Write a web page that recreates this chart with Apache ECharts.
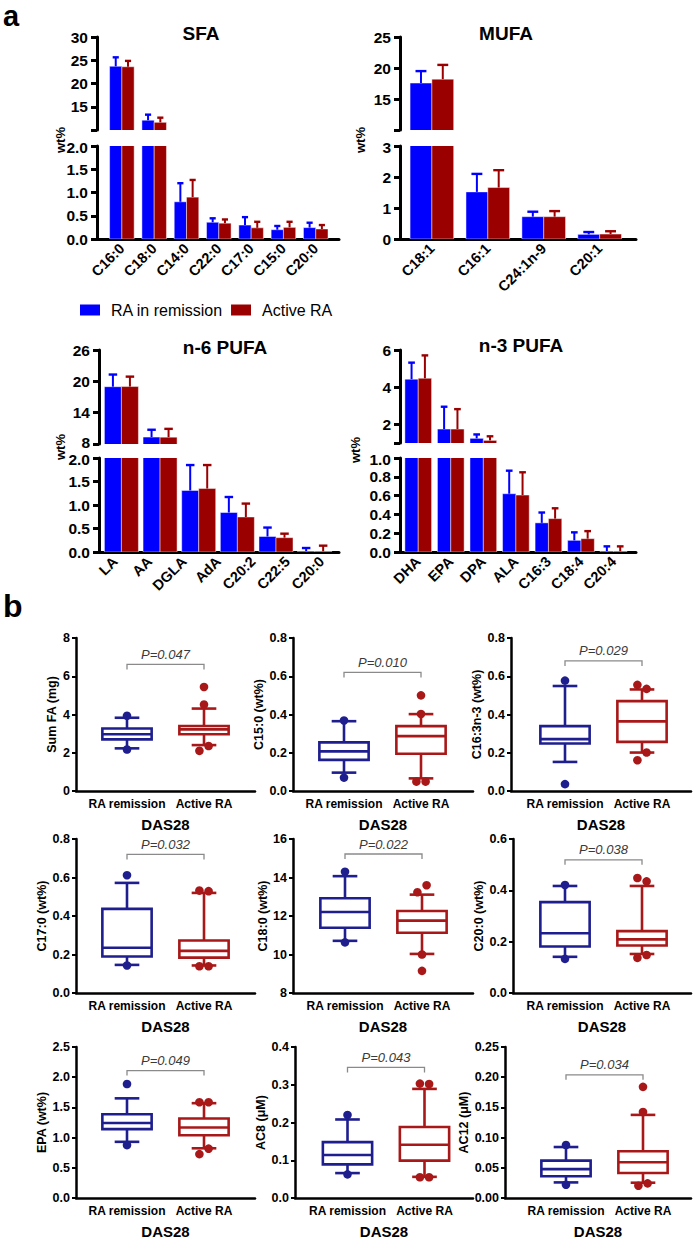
<!DOCTYPE html>
<html><head><meta charset="utf-8">
<script src="https://cdn.jsdelivr.net/npm/echarts@6/dist/echarts.min.js"></script>
<style>html,body{margin:0;padding:0;background:#fff;}#c{width:696px;height:1240px;}</style>
</head><body><div id="c"></div>
<script>
// ================= Panel a data (mean, SD) =================
const sfaCats = ['C16:0','C18:0','C14:0','C22:0','C17:0','C15:0','C20:0'];
const sfaRemission   = [23.7, 12.1, 0.80, 0.36, 0.30, 0.20, 0.245];
const sfaRemissionSD = [1.93, 1.2, 0.40, 0.085, 0.17, 0.08, 0.105];
const sfaActive      = [23.6, 11.65, 0.90, 0.34, 0.24, 0.25, 0.215];
const sfaActiveSD    = [1.26, 1.0, 0.37, 0.08, 0.13, 0.12, 0.085];

const mufaCats = ['C18:1','C16:1','C24:1n-9','C20:1'];
const mufaRemission   = [17.57, 1.52, 0.72, 0.15];
const mufaRemissionSD = [1.93, 0.58, 0.16, 0.075];
const mufaActive      = [18.2, 1.66, 0.72, 0.16];
const mufaActiveSD    = [2.3, 0.56, 0.18, 0.09];

const n6Labels = ['LA','AA','DGLA','AdA','C20:2','C22:5','C20:0'];   // 7 axis labels
const n6Groups = ['G1','G2','G3','G4','G5','G6'];                     // 6 bar groups drawn
const n6Remission   = [18.97, 9.33, 1.31, 0.84, 0.33, 0.02];
const n6RemissionSD = [2.33, 1.4, 0.54, 0.33, 0.19, 0.065];
const n6Active      = [19.0, 9.3, 1.35, 0.745, 0.305, 0.015];
const n6ActiveSD    = [1.9, 1.6, 0.5, 0.285, 0.085, 0.12];

const n3Cats = ['DHA','EPA','DPA','ALA','C16:3','C18:4','C20:4'];
const n3Remission   = [4.43, 1.75, 1.25, 0.62, 0.31, 0.124, 0.01];
const n3RemissionSD = [0.89, 1.2, 0.21, 0.245, 0.11, 0.085, 0.05];
const n3Active      = [4.48, 1.75, 1.14, 0.606, 0.355, 0.142, 0.008];
const n3ActiveSD    = [1.23, 1.07, 0.22, 0.242, 0.11, 0.08, 0.052];

// tick values for the broken axes
const sfaUpperTicks = [10,15,20,25,30], sfaUpperLabels = [15,20,25,30];
const sfaLowerTicks = [0,0.5,1,1.5,2];
const mufaUpperTicks = [10,15,20,25], mufaUpperLabels = [15,20,25];
const mufaLowerTicks = [0,1,2,3];
const n6UpperTicks = [8,14,20,26], n6UpperLabels = [8,14,20,26];
const n6LowerTicks = [0,0.5,1,1.5,2];
const n3UpperTicks = [1,2,4,6], n3UpperLabels = [2,4,6];
const n3LowerTicks = [0,0.2,0.4,0.6,0.8,1];

const seriesNames = ['RA in remission','Active RA'];

// ================= Panel b data: [low whisker, Q1, median, Q3, high whisker] =================
const boxGroups = ['RA remission','Active RA'];
const sumFaRemission = [2.23, 2.70, 2.97, 3.27, 3.83];  const sumFaRemissionOut = [3.93, 2.17];
const sumFaActive    = [2.40, 2.97, 3.22, 3.40, 4.31];  const sumFaActiveOut    = [5.44, 4.52, 2.10, 2.35];
const c15Remission = [0.096, 0.163, 0.207, 0.254, 0.365]; const c15RemissionOut = [0.369, 0.070];
const c15Active    = [0.066, 0.195, 0.287, 0.339, 0.402]; const c15ActiveOut    = [0.50, 0.403, 0.049, 0.049];
const c163Remission = [0.152, 0.248, 0.271, 0.339, 0.549]; const c163RemissionOut = [0.577, 0.036];
const c163Active    = [0.201, 0.257, 0.364, 0.470, 0.531]; const c163ActiveOut    = [0.555, 0.534, 0.161, 0.201];
const c17Remission = [0.146, 0.19, 0.235, 0.437, 0.572]; const c17RemissionOut = [0.612, 0.143];
const c17Active    = [0.143, 0.184, 0.219, 0.273, 0.52];  const c17ActiveOut    = [0.532, 0.529, 0.139, 0.139];
const c18Remission = [10.71, 11.39, 12.21, 12.92, 14.07]; const c18RemissionOut = [14.3, 10.63];
const c18Active    = [10.03, 11.13, 11.76, 12.26, 13.11]; const c18ActiveOut    = [13.23, 13.6, 10.0, 9.15];
const c20Remission = [0.141, 0.181, 0.233, 0.354, 0.417]; const c20RemissionOut = [0.421, 0.133];
const c20Active    = [0.152, 0.185, 0.209, 0.241, 0.417]; const c20ActiveOut    = [0.448, 0.435, 0.137, 0.148];
const epaRemission = [0.93, 1.14, 1.242, 1.387, 1.65];   const epaRemissionOut = [1.887, 0.876];
const epaActive    = [0.823, 1.038, 1.167, 1.317, 1.57]; const epaActiveOut    = [1.586, 1.586, 0.726, 0.817];
const ac8Remission = [0.066, 0.089, 0.114, 0.148, 0.208]; const ac8RemissionOut = [0.22, 0.0626];
const ac8Active    = [0.056, 0.099, 0.141, 0.188, 0.289]; const ac8ActiveOut    = [0.303, 0.302, 0.055, 0.055];
const ac12Remission = [0.0258, 0.036, 0.0478, 0.0618, 0.0844]; const ac12RemissionOut = [0.0876, 0.022];
const ac12Active    = [0.0253, 0.0414, 0.0591, 0.0774, 0.1376]; const ac12ActiveOut   = [0.184, 0.1425, 0.0204, 0.0242];

const pTexts   = ['P=0.047','P=0.010','P=0.029','P=0.032','P=0.022','P=0.038','P=0.049','P=0.043','P=0.034'];
const pLevels  = [6.62, 0.62, 0.68, 0.72, 15.22, 0.519, 2.11, 0.346, 0.204];
const yNames   = ['Sum FA (mg)','C15:0 (wt%)','C16:3n-3 (wt%)','C17:0 (wt%)','C18:0 (wt%)','C20:0 (wt%)','EPA (wt%)','AC8 (\u03bcM)','AC12 (\u03bcM)'];
const yMins    = [0, 0, 0, 0, 8, 0, 0, 0, 0];
const yMaxs    = [8, 0.8, 0.8, 0.8, 16, 0.6, 2.5, 0.4, 0.25];
const ySteps   = [2, 0.2, 0.2, 0.2, 2, 0.2, 0.5, 0.1, 0.05];
const yDecs    = [0, 1, 1, 1, 0, 1, 1, 1, 2];

// ================= styling / layout =================
const FONT = 'Liberation Sans, Arial, Helvetica, sans-serif';
const BLUE = '#0000ff', RED = '#9a0000';
const BOXC = ['#1e1e8e', '#a81818'];
const grids = [], xAxes = [], yAxes = [], series = [], graphics = [];
const fmt = d => v => Number(v).toFixed(d);

function barRender(side, bw, color) {
  return function (params, api) {
    const xc = api.value(0), v = api.value(1), sd = api.value(2);
    const x0 = side < 0 ? xc - bw : xc;
    const tl = api.coord([x0, v]);
    const br = api.coord([x0 + bw, 0]);
    const w = br[0] - tl[0];
    const mid = tl[0] + w / 2;
    const top = api.coord([x0, v + sd])[1];
    const cap = w * 0.25;
    return {type: 'group', children: [
      {type: 'rect', shape: {x: tl[0], y: tl[1], width: w, height: br[1] - tl[1]},
        style: {fill: color, stroke: 'rgba(255,255,255,0.45)', lineWidth: 1}},
      {type: 'line', shape: {x1: mid, y1: tl[1], x2: mid, y2: top}, style: {stroke: color, lineWidth: 2}},
      {type: 'line', shape: {x1: mid - cap, y1: top, x2: mid + cap, y2: top}, style: {stroke: color, lineWidth: 2.4}}
    ]};
  };
}

// edge: 'up' = upper segment (its bottom label nudged up), 'lo' = lower segment (its top label nudged down)
function yBar(gi, g, ticks, labels, dec, edge) {
  const f = fmt(dec);
  return {gridIndex: gi, type: 'value', min: g.min, max: g.max,
    axisLine: {show: true, onZero: false, lineStyle: {color: '#000', width: 3}},
    axisTick: {show: true, customValues: ticks, length: 6, lineStyle: {color: '#000', width: 3}},
    axisLabel: {show: true, customValues: labels, color: '#000', fontFamily: FONT,
      fontWeight: 'bold', fontSize: 15.5, lineHeight: 14, margin: 9,
      formatter: v => {
        if (edge === 'up' && v === g.min) return '{u|' + f(v) + '}';
        if (edge === 'lo' && v === g.max) return '{d|' + f(v) + '}';
        return f(v);
      },
      rich: {u: {padding: [0, 0, 4, 0], fontWeight: 'bold', fontSize: 15.5, fontFamily: FONT, color: '#000'},
             d: {padding: [3, 0, 0, 0], fontWeight: 'bold', fontSize: 15.5, fontFamily: FONT, color: '#000'}}},
    splitLine: {show: false}};
}

function addBarPanel(c) {
  const gU = grids.length; grids.push({left: c.left, width: c.width, top: c.up.top, height: c.up.h});
  const gL = grids.length; grids.push({left: c.left, width: c.width, top: c.lo.top, height: c.lo.h});
  const hidden = (gi, mn, mx) => ({gridIndex: gi, type: 'value', min: mn, max: mx, show: false});
  const xUbar = xAxes.length; xAxes.push(hidden(gU, c.bx[0], c.bx[1]));
  const labelAxis = {gridIndex: gL, type: 'value', min: c.lx[0], max: c.lx[1],
    axisLine: {show: true, onZero: false, lineStyle: {color: '#000', width: 3}},
    axisTick: {show: false}, splitLine: {show: false},
    axisLabel: {customValues: c.labels.map((_, i) => i), formatter: v => c.labels[Math.round(v)] || '',
      rotate: 45, color: '#000', fontFamily: FONT, fontWeight: 'bold', fontSize: 14.5, margin: 7}};
  const xLlab = xAxes.length; xAxes.push(labelAxis);
  let xLbar = xLlab;
  if (c.separateBars) { xLbar = xAxes.length; xAxes.push(hidden(gL, c.bx[0], c.bx[1])); }
  const yU = yAxes.length; yAxes.push(yBar(gU, c.up, c.up.ticks, c.up.labels, c.up.dec, 'up'));
  const yL = yAxes.length; yAxes.push(yBar(gL, c.lo, c.lo.ticks, c.lo.ticks, c.lo.dec, 'lo'));
  [[xUbar, yU], [xLbar, yL]].forEach(([xi, yi]) => {
    series.push({type: 'custom', name: seriesNames[0], xAxisIndex: xi, yAxisIndex: yi, clip: true,
      itemStyle: {color: BLUE}, renderItem: barRender(-1, c.bw, BLUE),
      data: c.blue.map((v, i) => [i, v, c.blueSd[i]])});
    series.push({type: 'custom', name: seriesNames[1], xAxisIndex: xi, yAxisIndex: yi, clip: true,
      itemStyle: {color: RED}, renderItem: barRender(1, c.bw, RED),
      data: c.red.map((v, i) => [i, v, c.redSd[i]])});
  });
  graphics.push({type: 'text', x: c.titleX, y: c.titleY,
    style: {text: c.title, font: 'bold 19px ' + FONT, fill: '#000', align: 'center', verticalAlign: 'middle'}});
  graphics.push({type: 'text', x: c.wtX, y: c.wtY, rotation: Math.PI / 2,
    style: {text: 'wt%', font: 'bold 13px ' + FONT, fill: '#000', align: 'center', verticalAlign: 'middle'}});
}

addBarPanel({left: 97, width: 242, bx: [-0.77, 6.72], lx: [-0.77, 6.72], bw: 0.38, labels: sfaCats,
  blue: sfaRemission, blueSd: sfaRemissionSD, red: sfaActive, redSd: sfaActiveSD,
  up: {top: 37, h: 93, min: 10, max: 30, ticks: sfaUpperTicks, labels: sfaUpperLabels, dec: 0},
  lo: {top: 146, h: 93, min: 0, max: 2, ticks: sfaLowerTicks, dec: 1},
  title: 'SFA', titleX: 201, titleY: 33, wtX: 60, wtY: 140});
addBarPanel({left: 400, width: 236, bx: [-0.57, 3.65], lx: [-0.57, 3.65], bw: 0.39, labels: mufaCats,
  blue: mufaRemission, blueSd: mufaRemissionSD, red: mufaActive, redSd: mufaActiveSD,
  up: {top: 37, h: 93, min: 10, max: 25, ticks: mufaUpperTicks, labels: mufaUpperLabels, dec: 0},
  lo: {top: 146, h: 93, min: 0, max: 3, ticks: mufaLowerTicks, dec: 0},
  title: 'MUFA', titleX: 506, titleY: 33, wtX: 360, wtY: 140});
addBarPanel({left: 99, width: 240, bx: [-0.58, 5.63], lx: [-0.47, 6.5], separateBars: true, bw: 0.44, labels: n6Labels,
  blue: n6Remission, blueSd: n6RemissionSD, red: n6Active, redSd: n6ActiveSD,
  up: {top: 350, h: 94, min: 8, max: 26, ticks: n6UpperTicks, labels: n6UpperLabels, dec: 0},
  lo: {top: 458, h: 94, min: 0, max: 2, ticks: n6LowerTicks, dec: 1},
  title: 'n-6 PUFA', titleX: 225, titleY: 347, wtX: 60, wtY: 447});
addBarPanel({left: 400, width: 236, bx: [-0.56, 6.69], lx: [-0.56, 6.69], bw: 0.41, labels: n3Cats,
  blue: n3Remission, blueSd: n3RemissionSD, red: n3Active, redSd: n3ActiveSD,
  up: {top: 350, h: 93, min: 1, max: 6, ticks: n3UpperTicks, labels: n3UpperLabels, dec: 0},
  lo: {top: 458, h: 94, min: 0, max: 1, ticks: n3LowerTicks, dec: 1},
  title: 'n-3 PUFA', titleX: 521, titleY: 345, wtX: 355, wtY: 450});

// ---------------- Panel b ----------------
const PXU = 77; // px between the two group centres
function boxRender(hb, hc) {
  return function (params, api) {
    const x = api.value(0);
    const lo = api.value(1), q1 = api.value(2), med = api.value(3), q3 = api.value(4), hi = api.value(5);
    const col = BOXC[params.dataIndex];
    const P = (dx, v) => api.coord([x + dx, v]);
    const st = {stroke: col, lineWidth: 2.6, fill: 'none'};
    const line = (p, q) => ({type: 'line', shape: {x1: p[0], y1: p[1], x2: q[0], y2: q[1]}, style: st});
    const a = P(-hb, q3), b = P(hb, q1);
    return {type: 'group', children: [
      line(P(0, q3), P(0, hi)), line(P(-hc, hi), P(hc, hi)),
      line(P(0, q1), P(0, lo)), line(P(-hc, lo), P(hc, lo)),
      {type: 'rect', shape: {x: a[0], y: a[1], width: b[0] - a[0], height: b[1] - a[1]},
        style: {stroke: col, lineWidth: 2.6, fill: '#fff'}},
      line(P(-hb, med), P(hb, med))
    ]};
  };
}
function outRender(outs, r, off) {
  return function (params, api) {
    const g = api.value(0), v = api.value(1), k = api.value(2);
    const list = outs[g];
    const p = api.coord([g, v]);
    let dx = 0;
    for (let j = 0; j < list.length; j++) {
      if (j === k) continue;
      const q = api.coord([g, list[j]]);
      if (Math.abs(q[1] - p[1]) < 2 * r + 1) { dx = k < j ? -off : off; break; }
    }
    return {type: 'circle', shape: {cx: p[0] + dx, cy: p[1], r: r}, style: {fill: BOXC[g]}};
  };
}
function bracketRender(text) {
  return function (params, api) {
    const a = api.coord([api.value(0), api.value(2)]);
    const b = api.coord([api.value(1), api.value(2)]);
    return {type: 'group', children: [
      {type: 'polyline', shape: {points: [[a[0], a[1] + 5], [a[0], a[1]], [b[0], b[1]], [b[0], b[1] + 5]]},
        style: {stroke: '#8a8a8a', lineWidth: 1.3, fill: 'none'}},
      {type: 'text', x: (a[0] + b[0]) / 2, y: a[1] - 10,
        style: {text: text, align: 'center', verticalAlign: 'middle', font: 'italic 13px ' + FONT, fill: '#3a3a3a'}}
    ]};
  };
}
const boxSets = [
  [sumFaRemission, sumFaActive, sumFaRemissionOut, sumFaActiveOut],
  [c15Remission, c15Active, c15RemissionOut, c15ActiveOut],
  [c163Remission, c163Active, c163RemissionOut, c163ActiveOut],
  [c17Remission, c17Active, c17RemissionOut, c17ActiveOut],
  [c18Remission, c18Active, c18RemissionOut, c18ActiveOut],
  [c20Remission, c20Active, c20RemissionOut, c20ActiveOut],
  [epaRemission, epaActive, epaRemissionOut, epaActiveOut],
  [ac8Remission, ac8Active, ac8RemissionOut, ac8ActiveOut],
  [ac12Remission, ac12Active, ac12RemissionOut, ac12ActiveOut]
];
// layout of the 3x3 grid: [left, top, width, height, offset of first box from axis, nameGap]
const boxLayout = [
  [76, 638, 179, 153, 51, 18], [293, 638, 180, 153, 51, 25], [511, 638, 180, 153, 54, 23],
  [76, 839, 179, 154, 51, 27], [293, 839, 180, 154, 52, 21], [513, 839, 178, 154, 52, 18],
  [76, 1047, 179, 155, 51, 27], [295, 1047, 178, 155, 52.5, 25], [505, 1047, 186, 155, 61, 28]
];
boxSets.forEach((set, i) => {
  const [left, top, width, height, off, ng] = boxLayout[i];
  const gi = grids.length; grids.push({left, top, width, height});
  const xmin = -off / PXU, xmax = xmin + width / PXU;
  const xi = xAxes.length;
  xAxes.push({gridIndex: gi, type: 'value', min: xmin, max: xmax,
    name: 'DAS28', nameLocation: 'middle', nameGap: 26,
    nameTextStyle: {color: '#000', fontFamily: FONT, fontWeight: 'bold', fontSize: 15},
    axisLine: {show: true, onZero: false, lineStyle: {color: '#000', width: 2.5}},
    axisTick: {show: false}, splitLine: {show: false},
    axisLabel: {customValues: [0, 1], formatter: v => boxGroups[Math.round(v)] || '',
      color: '#000', fontFamily: FONT, fontWeight: 'bold', fontSize: 12, margin: 7}});
  const yi = yAxes.length;
  yAxes.push({gridIndex: gi, type: 'value', min: yMins[i], max: yMaxs[i], interval: ySteps[i],
    name: yNames[i], nameLocation: 'middle', nameGap: ng,
    nameTextStyle: {color: '#000', fontFamily: FONT, fontWeight: 'bold', fontSize: 12.5},
    axisLine: {show: true, onZero: false, lineStyle: {color: '#000', width: 2.5}},
    axisTick: {show: true, length: 4, lineStyle: {color: '#000', width: 2}},
    axisLabel: {formatter: fmt(yDecs[i]), color: '#000', fontFamily: FONT, fontWeight: 'bold', fontSize: 12.5, margin: 6},
    splitLine: {show: false}});
  series.push({type: 'custom', xAxisIndex: xi, yAxisIndex: yi, silent: true,
    renderItem: boxRender(0.32, 0.16), data: [[0].concat(set[0]), [1].concat(set[1])]});
  const outs = [set[2], set[3]];
  series.push({type: 'custom', xAxisIndex: xi, yAxisIndex: yi, silent: true,
    renderItem: outRender(outs, 4.3, 4.6),
    data: outs.flatMap((list, g) => list.map((v, k) => [g, v, k]))});
  series.push({type: 'custom', xAxisIndex: xi, yAxisIndex: yi, silent: true,
    renderItem: bracketRender(pTexts[i]), data: [[0, 1, pLevels[i]]]});
});

graphics.push({type: 'text', x: 3, y: 1,
  style: {text: 'a', font: 'bold 29px ' + FONT, fill: '#000', align: 'left', verticalAlign: 'top'}});
graphics.push({type: 'text', x: 3, y: 590,
  style: {text: 'b', font: 'bold 32px ' + FONT, fill: '#000', align: 'left', verticalAlign: 'top'}});

const chart = echarts.init(document.getElementById('c'), null, {renderer: 'svg', width: 696, height: 1240});
chart.setOption({
  animation: false,
  backgroundColor: '#fff',
  textStyle: {fontFamily: FONT},
  grid: grids, xAxis: xAxes, yAxis: yAxes, series: series, graphic: graphics,
  legend: {data: seriesNames, left: 75, top: 297, icon: 'rect', itemWidth: 20, itemHeight: 11, itemGap: 8,
    selectedMode: false, textStyle: {fontSize: 16, color: '#000', fontFamily: FONT, padding: [0, 0, 0, 6]}}
});
</script></body></html>
